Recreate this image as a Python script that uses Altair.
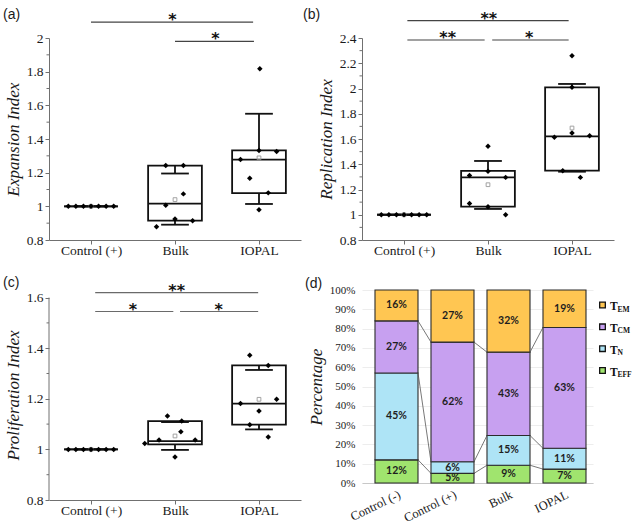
import altair as alt
import pandas as pd

# ---------------- data ----------------
box_groups = ["Control (+)", "Bulk", "IOPAL"]
ctrl_dx = [-0.27, -0.18, -0.09, 0.0, 0.09, 0.18, 0.27]

# (a) Expansion Index
exp_ctrl = [1.0, 1.0, 1.0, 1.0, 1.0, 1.0, 1.0]
exp_bulk = [1.242, 1.242, 1.074, 1.006, 0.925, 0.915, 0.879]
exp_bulk_dx = [-0.11, 0.10, 0.10, -0.11, 0.0, 0.21, -0.22]
exp_iopal = [1.817, 1.332, 1.326, 1.278, 1.167, 1.080, 0.980]
exp_iopal_dx = [0.01, 0.0, 0.21, -0.22, -0.11, 0.11, 0.0]
exp_q1 = [1.0, 0.915, 1.078]
exp_med = [1.0, 1.016, 1.278]
exp_q3 = [1.0, 1.242, 1.332]
exp_wlo = [1.0, 0.891, 1.014]
exp_whi = [1.0, 1.195, 1.550]
exp_mean = [1.0, 1.040, 1.288]
exp_sig_x1 = [0.0, 1.0]
exp_sig_x2 = [1.93, 1.94]
exp_sig_y = [2.094, 1.98]
exp_sig_lx = [0.97, 1.48]
exp_sig_lab = ["*", "*"]

# (b) Replication Index
rep_ctrl = [1.0, 1.0, 1.0, 1.0, 1.0, 1.0, 1.0]
rep_bulk = [1.542, 1.310, 1.344, 1.296, 1.090, 1.064, 1.000]
rep_bulk_dx = [0.0, -0.22, 0.0, 0.21, -0.22, 0.0, 0.21]
rep_iopal = [2.260, 2.009, 1.613, 1.648, 1.626, 1.349, 1.296]
rep_iopal_dx = [0.0, 0.0, -0.21, 0.0, 0.21, -0.11, 0.10]
rep_q1 = [1.0, 1.064, 1.349]
rep_med = [1.0, 1.296, 1.621]
rep_q3 = [1.0, 1.347, 2.009]
rep_wlo = [1.0, 1.046, 1.341]
rep_whi = [1.0, 1.426, 2.036]
rep_mean = [1.0, 1.238, 1.687]
rep_sig_x1 = [0.04, 0.04, 1.05]
rep_sig_x2 = [1.96, 0.96, 1.96]
rep_sig_y = [2.537, 2.384, 2.384]
rep_sig_lx = [1.01, 0.52, 1.49]
rep_sig_lab = ["**", "**", "*"]

# (c) Proliferation Index
pro_ctrl = [1.0, 1.0, 1.0, 1.0, 1.0, 1.0, 1.0]
pro_bulk = [1.132, 1.112, 1.070, 1.037, 1.037, 1.023, 0.970]
pro_bulk_dx = [-0.09, 0.08, 0.07, -0.19, 0.24, -0.36, 0.0]
pro_iopal = [1.372, 1.332, 1.181, 1.198, 1.152, 1.097, 1.049]
pro_iopal_dx = [-0.11, 0.11, -0.22, 0.21, 0.0, -0.11, 0.11]
pro_q1 = [1.0, 1.020, 1.098]
pro_med = [1.0, 1.033, 1.181]
pro_q3 = [1.0, 1.112, 1.332]
pro_wlo = [1.0, 0.998, 1.079]
pro_whi = [1.0, 1.108, 1.314]
pro_mean = [1.0, 1.053, 1.198]
pro_sig_x1 = [0.05, 0.05, 1.06]
pro_sig_x2 = [1.99, 0.98, 1.99]
pro_sig_y = [1.62, 1.545, 1.545]
pro_sig_lx = [1.02, 0.50, 1.52]
pro_sig_lab = ["**", "*", "*"]

# (d) T cell subsets (%)
d_groups = ["Control (-)", "Control (+)", "Bulk", "IOPAL"]
d_layers = ["T_EFF", "T_N", "T_CM", "T_EM"]          # bottom -> top
d_sub = ["EFF", "N", "CM", "EM"]
d_colors = ["#a0e46e", "#aee4f6", "#c7a0f0", "#ffc652"]
pct_eff = [12, 5, 9.2, 7.2]
pct_n = [45, 6, 15.4, 10.8]
pct_cm = [27, 62, 43.2, 62.6]
pct_em = [16, 27, 32.2, 19.4]

# ---------------- style ----------------
SERIF = "Liberation Serif"
AXC = "#707070"
TXT = "#1a1a1a"
BOXC = "#111111"


def ternary(names):
    expr = "'%s'" % names[-1]
    for i in range(len(names) - 2, -1, -1):
        expr = "datum.value < %g ? '%s' : (%s)" % (i + 0.5, names[i], expr)
    return expr


def box_panel(ctrl, bulk, bulk_dx, iopal, iopal_dx, q1, med, q3, wlo, whi, mean,
              sx1, sx2, sy, slx, slab, ytitle, tag, ydom, major, minor, height,
              tag_dx, tag_offset, hide_domain=False, sig_color="#444444"):
    pts = pd.DataFrame({
        "g": [0] * len(ctrl) + [1] * len(bulk) + [2] * len(iopal),
        "dx": ctrl_dx + bulk_dx + iopal_dx,
        "v": ctrl + bulk + iopal,
    })
    st = pd.DataFrame({"g": [0, 1, 2], "q1": q1, "med": med, "q3": q3,
                       "wlo": wlo, "whi": whi, "mean": mean})
    sig = pd.DataFrame({"x1": sx1, "x2": sx2, "y": sy, "lx": slx, "lab": slab})

    xs = alt.Scale(domain=[-0.5, 2.5], nice=False, zero=False)
    ys = alt.Scale(domain=ydom, nice=False, zero=False)
    xaxis = alt.Axis(values=[0, 1, 2], labelExpr=ternary(box_groups), title=None,
                     grid=False, domain=True, ticks=True, labelOverlap=False,
                     domainColor=AXC, tickColor=AXC, tickSize=4, labelFont=SERIF,
                     labelFontSize=13.5, labelColor=TXT, labelPadding=-1)
    yaxis = alt.Axis(values=major, format="~g", title=ytitle, grid=False,
                     domain=not hide_domain, ticks=True, domainColor=AXC, tickColor=AXC,
                     tickSize=4, labelFont=SERIF, labelFontSize=13.5, labelColor=TXT,
                     labelPadding=2, labelOverlap=False, titleFont=SERIF, titleFontSize=17,
                     titleFontStyle="italic", titleFontWeight="normal", titleColor=TXT,
                     titlePadding=4)

    def X(f):
        return alt.X(f, scale=xs, axis=xaxis)

    def Y(f):
        return alt.Y(f, scale=ys, axis=yaxis)

    box = alt.Chart(st).transform_calculate(
        xl="datum.g - 0.32", xr="datum.g + 0.32"
    ).mark_rect(fill="white", stroke=BOXC, strokeWidth=1.8).encode(
        x=X("xl:Q"), x2="xr:Q", y=Y("q1:Q"), y2="q3:Q")
    wh_hi = alt.Chart(st).mark_rule(color=BOXC, strokeWidth=1.8).encode(
        x=X("g:Q"), y=Y("q3:Q"), y2="whi:Q")
    wh_lo = alt.Chart(st).mark_rule(color=BOXC, strokeWidth=1.8).encode(
        x=X("g:Q"), y=Y("q1:Q"), y2="wlo:Q")
    cap_hi = alt.Chart(st).transform_calculate(
        cl="datum.g - 0.165", cr="datum.g + 0.165"
    ).mark_rule(color=BOXC, strokeWidth=1.8).encode(
        x=X("cl:Q"), x2="cr:Q", y=Y("whi:Q"))
    cap_lo = alt.Chart(st).transform_calculate(
        cl="datum.g - 0.165", cr="datum.g + 0.165"
    ).mark_rule(color=BOXC, strokeWidth=1.8).encode(
        x=X("cl:Q"), x2="cr:Q", y=Y("wlo:Q"))
    med_r = alt.Chart(st).transform_calculate(
        xl="datum.g - 0.32", xr="datum.g + 0.32"
    ).mark_rule(color=BOXC, strokeWidth=1.8).encode(
        x=X("xl:Q"), x2="xr:Q", y=Y("med:Q"))
    mean_p = alt.Chart(st).mark_point(shape="square", filled=False, color="#9a9a9a",
                                      size=14, strokeWidth=0.9, opacity=1).encode(
        x=X("g:Q"), y=Y("mean:Q"))
    pts_m = alt.Chart(pts).transform_calculate(
        xp="datum.g + datum.dx"
    ).mark_point(shape="diamond", filled=True, color="#000000", size=30, opacity=1).encode(
        x=X("xp:Q"), y=Y("v:Q"))
    sig_r = alt.Chart(sig).mark_rule(color=sig_color, strokeWidth=1.2).encode(
        x=X("x1:Q"), x2="x2:Q", y=Y("y:Q"))
    sig_t = alt.Chart(sig).mark_text(font="DejaVu Sans", fontSize=16, fontWeight="bold",
                                     baseline="alphabetic", dy=3, color="#111111").encode(
        x=X("lx:Q"), y=Y("y:Q"), text="lab:N")
    # minor ticks on the y axis (short outward ticks)
    minor_t = alt.Chart(pd.DataFrame({"m": minor})).mark_rule(
        color=AXC, strokeWidth=1).encode(
        x=alt.value(0), x2=alt.value(-2.5), y=Y("m:Q"))

    layers = [box, wh_hi, wh_lo, cap_hi, cap_lo, med_r, mean_p, pts_m, sig_r, sig_t, minor_t]
    if hide_domain:
        dom = alt.Chart(pd.DataFrame({"lo": [major[0]], "hi": [major[-1]]})).mark_rule(
            color=AXC, strokeWidth=1).encode(
            x=alt.value(0), y=Y("lo:Q"), y2="hi:Q")
        layers.append(dom)

    return alt.layer(*layers).properties(
        width=252, height=height,
        title=alt.TitleParams(text=tag, anchor="start", frame="group", dx=tag_dx,
                              offset=tag_offset, baseline="alphabetic",
                              font="Liberation Sans", fontSize=14, fontWeight="normal",
                              color=TXT))


pa = box_panel(exp_ctrl, exp_bulk, exp_bulk_dx, exp_iopal, exp_iopal_dx,
               exp_q1, exp_med, exp_q3, exp_wlo, exp_whi, exp_mean,
               exp_sig_x1, exp_sig_x2, exp_sig_y, exp_sig_lx, exp_sig_lab,
               "Expansion Index", "(a)", [0.8, 2.0],
               [0.8, 1.0, 1.2, 1.4, 1.6, 1.8, 2.0],
               [0.9, 1.1, 1.3, 1.5, 1.7, 1.9], 202, -46, -21)
pb = box_panel(rep_ctrl, rep_bulk, rep_bulk_dx, rep_iopal, rep_iopal_dx,
               rep_q1, rep_med, rep_q3, rep_wlo, rep_whi, rep_mean,
               rep_sig_x1, rep_sig_x2, rep_sig_y, rep_sig_lx, rep_sig_lab,
               "Replication Index", "(b)", [0.8, 2.4],
               [0.8, 1.0, 1.2, 1.4, 1.6, 1.8, 2.0, 2.2, 2.4],
               [0.9, 1.1, 1.3, 1.5, 1.7, 1.9, 2.1, 2.3], 202, -59, -22)
pc = box_panel(pro_ctrl, pro_bulk, pro_bulk_dx, pro_iopal, pro_iopal_dx,
               pro_q1, pro_med, pro_q3, pro_wlo, pro_whi, pro_mean,
               pro_sig_x1, pro_sig_x2, pro_sig_y, pro_sig_lx, pro_sig_lab,
               "Proliferation Index", "(c)", [0.8, 1.63],
               [0.8, 1.0, 1.2, 1.4, 1.6],
               [0.9, 1.1, 1.3, 1.5], 210, -46, -18.5, hide_domain=True,
               sig_color="#6a6a6a")

# ---------------- panel (d) ----------------
series = [pct_eff, pct_n, pct_cm, pct_em]
rows = []
for i, g in enumerate(d_groups):
    y0 = 0.0
    for k, name in enumerate(d_layers):
        v = series[k][i]
        rows.append(dict(gi=i, layer=name, y0=y0, y1=y0 + v, mid=y0 + v / 2,
                         lab="%d%%" % round(v)))
        y0 += v
bars_df = pd.DataFrame(rows)

cum = [[sum(series[j][i] for j in range(k + 1)) for i in range(len(d_groups))]
       for k in range(3)]
lines_df = pd.DataFrame([dict(gi=i, gn=i + 1, ya=cum[k][i], yb=cum[k][i + 1])
                         for k in range(3) for i in range(len(d_groups) - 1)])
leg_df = pd.DataFrame({"layer": d_layers, "sub": d_sub})

xs_d = alt.Scale(domain=[-0.616, 3.509], nice=False, zero=False)
ys_d = alt.Scale(domain=[0, 100], nice=False, zero=False)
cs = alt.Scale(domain=d_layers, range=d_colors)
ys_leg = alt.Scale(type="point", domain=list(reversed(d_layers)), range=[15, 80.5], padding=0)

xaxis_d = alt.Axis(values=[0, 1, 2, 3], labelExpr=ternary(d_groups), title=None, grid=False,
                   ticks=False, tickSize=0, domain=True, domainColor="#c8c8c8",
                   labelOverlap=False, labelAngle=-26, labelAlign="right",
                   labelBaseline="top", labelPadding=5,
                   labelFont=SERIF, labelFontSize=12.5, labelColor=TXT)
yaxis_d = alt.Axis(values=list(range(0, 101, 10)), labelExpr="datum.value + '%'",
                   title="Percentage", grid=True, gridColor="#ededed", domain=False,
                   ticks=False, tickSize=0, labelFont=SERIF, labelFontSize=11,
                   labelOverlap=False, labelColor=TXT, labelPadding=7, titleFont=SERIF,
                   titleFontSize=17, titleFontStyle="italic", titleFontWeight="normal",
                   titleColor=TXT, titlePadding=4)


def XD(f):
    return alt.X(f, scale=xs_d, axis=xaxis_d)


def YD(f):
    return alt.Y(f, scale=ys_d, axis=yaxis_d)


bars = alt.Chart(bars_df).transform_calculate(
    xl="datum.gi - 0.384", xr="datum.gi + 0.384"
).mark_rect(stroke="#2b2b2b", strokeWidth=1.1).encode(
    x=XD("xl:Q"), x2="xr:Q", y=YD("y0:Q"), y2="y1:Q",
    color=alt.Color("layer:N", scale=cs, legend=None))
slines = alt.Chart(lines_df).transform_calculate(
    xa="datum.gi + 0.384", xb="datum.gn - 0.384"
).mark_rule(color="#555555", strokeWidth=0.8).encode(
    x=XD("xa:Q"), x2="xb:Q", y=YD("ya:Q"), y2="yb:Q")
blabels = alt.Chart(bars_df).mark_text(font="Lato", fontWeight="bold", fontSize=10.5,
                                        color="#1e1e1e", baseline="middle").encode(
    x=XD("gi:Q"), y=YD("mid:Q"), text="lab:N")
bars_layer = alt.layer(bars, slines, blabels)

leg_sq = alt.Chart(leg_df).mark_square(size=32, filled=True, stroke="#111111",
                                       strokeWidth=1.3, opacity=1).encode(
    x=alt.value(240.5), y=alt.Y("layer:N", scale=ys_leg, axis=None),
    color=alt.Color("layer:N", scale=cs, legend=None))
leg_t = alt.Chart(leg_df).mark_text(text="T", align="left", baseline="alphabetic", dy=5,
                                    font=SERIF, fontSize=11.5, fontWeight="bold",
                                    color="#111111").encode(
    x=alt.value(248), y=alt.Y("layer:N", scale=ys_leg, axis=None))
leg_s = alt.Chart(leg_df).mark_text(align="left", baseline="alphabetic", dy=6.5,
                                    font=SERIF, fontSize=7.5, fontWeight="bold",
                                    color="#111111").encode(
    x=alt.value(255.5), y=alt.Y("layer:N", scale=ys_leg, axis=None), text="sub:N")
legend_layer = alt.layer(leg_sq, leg_t, leg_s)

pd_ = alt.layer(bars_layer, legend_layer).resolve_scale(y="independent").properties(
    width=231, height=193,
    title=alt.TitleParams(text="(d)", anchor="start", frame="group", dx=-57,
                          offset=-17.5, baseline="alphabetic", font="Liberation Sans",
                          fontSize=14, fontWeight="normal", color=TXT))

chart = alt.concat(pa, pb, pc, pd_, columns=2, spacing={"row": 50, "column": 61},
                   bounds="flush").properties(
    padding={"left": 3, "top": 7, "right": 0, "bottom": 0}
).configure_view(stroke=None)

chart.save("out.html", embed_options={"renderer": "svg", "actions": False})
